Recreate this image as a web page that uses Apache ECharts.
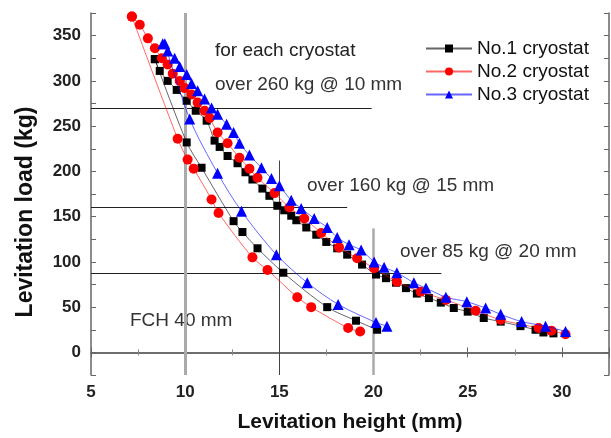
<!DOCTYPE html>
<html>
<head>
<meta charset="utf-8">
<script src="https://cdn.jsdelivr.net/npm/echarts@6/dist/echarts.min.js"></script>
<style>
  html, body { margin: 0; padding: 0; background: #fff; }
  #chart { width: 611px; height: 438px; }
</style>
</head>
<body>
<div id="chart"></div>
<script>
// levitation height (mm), levitation load (kg)
var no1Upper = [[8.39,324],[8.65,311],[9.07,300],[9.55,290],[10.08,278],[10.56,267],[11.14,256],[11.56,234],[11.83,227],[12.25,217],[12.78,209],[13.2,199],[13.57,191],[14.1,181],[14.47,173],[14.89,162],[15.26,157],[15.63,151],[15.9,146],[16.43,138],[16.96,130],[17.49,122],[18.07,115],[18.6,108],[19.39,97],[20.13,86],[20.66,82],[21.19,77],[21.72,71],[22.3,65],[22.94,60],[23.57,55],[24.26,49],[25.0,45],[25.85,38],[26.75,34],[27.8,29],[28.6,25],[29.02,22],[29.55,21]];
var no1Lower = [[8.39,324],[10.08,232],[10.87,204],[12.57,145],[13.04,133],[13.84,115],[15.21,88],[17.54,50],[19.07,35],[20.19,25]];
var no2Upper = [[7.17,371],[7.59,362],[8.02,347],[8.39,336],[8.76,325],[9.07,318],[9.34,308],[9.71,300],[9.97,292],[10.34,285],[10.66,276],[11.03,267],[11.3,259],[11.72,243],[12.25,231],[12.88,215],[13.41,203],[13.84,193],[14.74,176],[15.53,160],[16.32,148],[17.22,132],[18.17,116],[19.13,104],[20.03,93],[21.24,78],[22.5,67],[23.84,58],[25.42,46],[26.75,36],[28.76,27],[29.44,24],[30.19,20]];
var no2Lower = [[7.17,371],[9.6,236],[10.13,213],[10.45,203],[11.4,169],[11.77,154],[13.57,105],[14.37,91],[15.95,61],[16.69,50],[18.65,27],[19.29,23]];
var no3Upper = [[8.81,341],[9.07,333],[9.44,325],[9.71,316],[10.08,307],[10.34,297],[10.66,289],[11.03,280],[11.4,270],[11.72,263],[12.2,252],[12.57,243],[12.88,231],[13.41,218],[14.05,204],[14.58,192],[15.0,184],[15.63,168],[16.16,159],[16.85,148],[17.54,138],[18.07,127],[18.7,119],[19.34,113],[20.03,100],[20.56,94],[21.24,88],[22.14,77],[22.78,71],[23.84,61],[24.95,56],[25.95,49],[26.75,42],[27.86,34],[29.13,29],[30.19,23]];
var no3Lower = [[8.92,341],[10.24,258],[11.72,198],[12.99,156],[14.84,108],[16.48,77],[18.12,53],[20.13,33],[20.71,29]];

var names = ['No.1 cryostat', 'No.2 cryostat', 'No.3 cryostat'];
var colors = ['#000000', '#ff0000', '#0000ff'];
var symbols = ['rect', 'circle', 'triangle'];
var sizes = [8, 10, 11];

// criteria lines [x1, y1, x2, y2]
var hLines = [[5, 270, 19.9, 270], [5, 160, 18.6, 160], [5, 87, 23.6, 87]];
var vLines = [[10, -25, 10, 375, '#aaaaaa', 3], [15, -25, 15, 212, '#444444', 1], [20, -25, 20, 137, '#aaaaaa', 2.5]];

var myChart = echarts.init(document.getElementById('chart'));

function mkSeries(i, data, withLines) {
    var s = {
        name: names[i],
        type: 'line',
        data: data,
        smooth: 0.3,
        symbol: symbols[i],
        symbolSize: sizes[i],
        showAllSymbol: true,
        itemStyle: { color: colors[i] },
        lineStyle: { color: colors[i], width: 1, opacity: 0.6 },
        z: 3 + i
    };
    if (withLines) {
        var ml = [];
        hLines.forEach(function (l) {
            ml.push([{ coord: [l[0], l[1]], lineStyle: { color: '#222', width: 1.2, type: 'solid' } }, { coord: [l[2], l[3]] }]);
        });
        vLines.forEach(function (l) {
            ml.push([{ coord: [l[0], l[1]], lineStyle: { color: l[4], width: l[5], type: 'solid' } }, { coord: [l[2], l[3]] }]);
        });
        s.markLine = { silent: true, symbol: 'none', label: { show: false }, animation: false, data: ml, z: 1 };
    }
    return s;
}

var axisLineStyle = { lineStyle: { color: '#666', width: 1.5 } };

option = {
    backgroundColor: '#fff',
    animation: false,
    textStyle: { fontFamily: 'Liberation Sans, Arial, sans-serif' },
    grid: { left: 91, right: 2, top: 13, bottom: 62 },
    legend: {
        orient: 'vertical',
        left: 420,
        top: 34,
        itemWidth: 46,
        itemHeight: 10,
        itemGap: 4,
        data: names,
        textStyle: { fontSize: 19, color: '#111' }
    },
    xAxis: [{
        type: 'value',
        min: 5,
        max: 32.5,
        interval: 5,
        name: 'Levitation height (mm)',
        nameLocation: 'middle',
        nameGap: 37,
        nameTextStyle: { fontSize: 21, fontWeight: 'bold', color: '#111' },
        axisLine: axisLineStyle,
        axisTick: { inside: true, length: 5, lineStyle: { color: '#666' } },
        minorTick: { show: true, splitNumber: 2, length: 3, lineStyle: { color: '#888' } },
        splitLine: { show: false },
        axisLabel: { fontSize: 17, fontWeight: 'bold', color: '#222', margin: 9, showMaxLabel: false }
    }, {
        type: 'value',
        position: 'top',
        min: 5,
        max: 32.5,
        interval: 5,
        axisLine: axisLineStyle,
        axisTick: { inside: true, length: 5, lineStyle: { color: '#666' } },
        minorTick: { show: true, splitNumber: 2, length: 3, lineStyle: { color: '#888' } },
        splitLine: { show: false },
        axisLabel: { show: false }
    }],
    yAxis: [{
        type: 'value',
        min: -25,
        max: 375,
        interval: 25,
        name: 'Levitation load (kg)',
        nameLocation: 'middle',
        nameGap: 54,
        nameTextStyle: { fontSize: 23, fontWeight: 'bold', color: '#111', padding: [0, 36, 0, 0] },
        axisLine: axisLineStyle,
        axisTick: { inside: true, length: 5, lineStyle: { color: '#666' } },
        splitLine: { show: false },
        axisLabel: {
            fontSize: 17, fontWeight: 'bold', color: '#222', margin: 10,
            formatter: function (v) { return v % 50 === 0 ? v : ''; }
        }
    }, {
        type: 'value',
        position: 'right',
        min: -25,
        max: 375,
        interval: 25,
        axisLine: axisLineStyle,
        axisTick: { inside: true, length: 5, lineStyle: { color: '#666' } },
        splitLine: { show: false },
        axisLabel: { show: false }
    }],
    graphic: [
        { type: 'text', left: 215, top: 41, style: { text: 'for each cryostat', fontSize: 19, fill: '#222', fontFamily: 'Liberation Sans' } },
        { type: 'text', left: 215, top: 75, style: { text: 'over 260 kg @ 10 mm', fontSize: 19, fill: '#333', fontFamily: 'Liberation Sans' } },
        { type: 'text', left: 307, top: 176, style: { text: 'over 160 kg @ 15 mm', fontSize: 19, fill: '#333', fontFamily: 'Liberation Sans' } },
        { type: 'text', left: 400, top: 242, style: { text: 'over 85 kg @ 20 mm', fontSize: 19, fill: '#333', fontFamily: 'Liberation Sans' } },
        { type: 'text', left: 130, top: 311, style: { text: 'FCH 40 mm', fontSize: 19, fill: '#333', fontFamily: 'Liberation Sans' } }
    ],
    series: [
        mkSeries(0, no1Upper, true),
        mkSeries(0, no1Lower, false),
        mkSeries(1, no2Upper, false),
        mkSeries(1, no2Lower, false),
        mkSeries(2, no3Upper, false),
        mkSeries(2, no3Lower, false)
    ]
};
myChart.setOption(option);
</script>
</body>
</html>
